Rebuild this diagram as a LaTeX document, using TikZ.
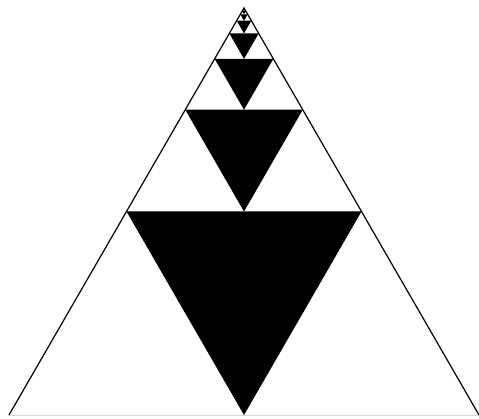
\documentclass[tikz,border=0pt]{standalone}
\usetikzlibrary{calc}
\begin{document}
\begin{tikzpicture}[x=1pt,y=1pt,
  side/.style={draw=black,line width=1.2pt},
  hole/.style={fill=black}]
  \useasboundingbox (0,0) rectangle (479,418);
  \coordinate (apex) at (244,410);
  \coordinate (left) at (9,3);
  \coordinate (right) at (479,3);
  % inverted triangles, halving towards the apex
  \foreach \k in {0,...,8}{
    \pgfmathsetmacro\h{407/2^\k}
    \pgfmathsetmacro\w{0.5*\h*tan(30)}
    \fill[hole] ($(apex)+(-\w,-0.5*\h)$) -- ($(apex)+(\w,-0.5*\h)$)
      -- ($(apex)+(0,-\h)$) -- cycle;
  }
  \draw[black!15,line width=0.8pt] (left) -- (right);
  \begin{scope}
    \clip (0,0) rectangle (479,418);
    \draw[side] (left) -- (apex) -- (right);
  \end{scope}
\end{tikzpicture}
\end{document}
